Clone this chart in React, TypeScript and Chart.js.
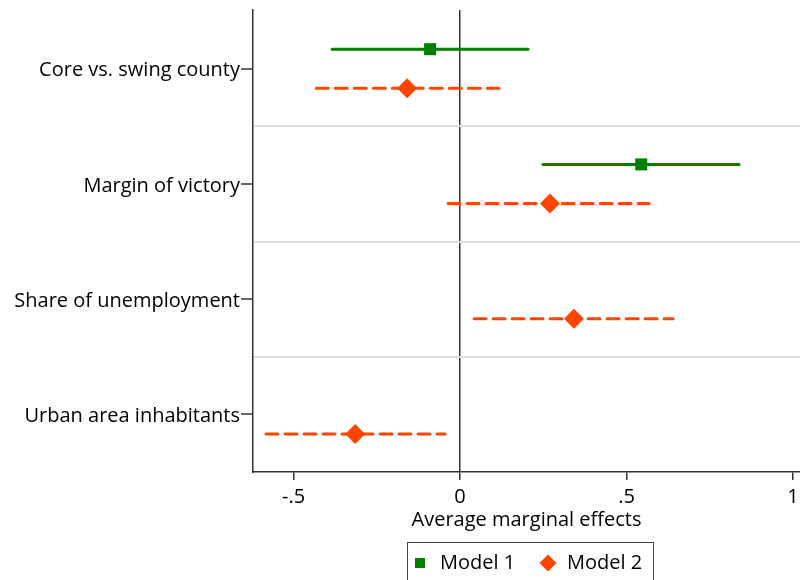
import React, { useEffect, useRef } from 'react';
import { Chart, registerables } from 'chart.js';

Chart.register(...registerables);

const categories = [
  'Core vs. swing county',
  'Margin of victory',
  'Share of unemployment',
  'Urban area inhabitants',
];
const xTicks = [-0.5, 0, 0.5, 1];
const xTickLabels = ['-.5', '0', '.5', '1'];
const xTitle = 'Average marginal effects';

const model1Est = [-0.09, 0.544, null, null];
const model1Lo = [-0.384, 0.249, null, null];
const model1Hi = [0.204, 0.838, null, null];

const model2Est = [-0.159, 0.27, 0.342, -0.315];
const model2Lo = [-0.432, -0.036, 0.042, -0.583];
const model2Hi = [0.117, 0.568, 0.64, -0.045];

const seriesNames = ['Model 1', 'Model 2'];
const seriesColors = ['#008000', '#ff4500'];

const FONT = '"Open Sans"';

export default function App() {
  const ref = useRef<HTMLCanvasElement | null>(null);

  useEffect(() => {
    if (!ref.current) return;
    const series = [
      { est: model1Est, lo: model1Lo, hi: model1Hi, off: -0.17, style: 'rect', radius: 8.5, dash: [] as number[] },
      { est: model2Est, lo: model2Lo, hi: model2Hi, off: 0.17, style: 'rectRot', radius: 10, dash: [12, 7] },
    ];
    const datasets: any[] = [];
    series.forEach((s, si) => {
      datasets.push({
        type: 'scatter',
        label: seriesNames[si],
        data: s.est
          .map((v, i) => (v == null ? null : { x: v, y: i + 1 + s.off }))
          .filter((p) => p != null),
        pointStyle: s.style,
        pointRadius: s.radius,
        pointHoverRadius: s.radius,
        backgroundColor: seriesColors[si],
        borderColor: seriesColors[si],
        borderWidth: 0,
        showLine: false,
        order: 0,
      });
    });
    series.forEach((s, si) => {
      s.lo.forEach((lo, i) => {
        if (lo == null || s.hi[i] == null) return;
        datasets.push({
          type: 'scatter',
          label: seriesNames[si] + ' CI',
          data: [
            { x: lo, y: i + 1 + s.off },
            { x: s.hi[i], y: i + 1 + s.off },
          ],
          showLine: true,
          borderColor: seriesColors[si],
          borderWidth: 3,
          borderDash: s.dash,
          borderCapStyle: 'round',
          pointRadius: 0,
          pointHoverRadius: 0,
          order: 1,
        });
      });
    });

    const legendBox = {
      id: 'legendBox',
      afterDraw(chart: any) {
        const { ctx, chartArea } = chart;
        const cx = (chartArea.left + chartArea.right) / 2 + 3;
        const w = 246;
        const left = Math.round(cx - w / 2);
        const top = Math.round(chartArea.bottom + 70);
        const cy = top + 21;
        ctx.save();
        ctx.strokeStyle = '#444';
        ctx.lineWidth = 1;
        ctx.strokeRect(left + 0.5, top + 0.5, w, 60);
        ctx.font = `20px ${FONT}`;
        ctx.textBaseline = 'middle';
        ctx.textAlign = 'left';
        ctx.fillStyle = seriesColors[0];
        ctx.fillRect(left + 8, cy - 5, 10, 10);
        ctx.fillStyle = '#000';
        ctx.fillText(seriesNames[0], left + 33, cy);
        const dx = left + 141;
        const r = 8.5;
        ctx.fillStyle = seriesColors[1];
        ctx.beginPath();
        ctx.moveTo(dx - r, cy);
        ctx.lineTo(dx, cy - r);
        ctx.lineTo(dx + r, cy);
        ctx.lineTo(dx, cy + r);
        ctx.closePath();
        ctx.fill();
        ctx.fillStyle = '#000';
        ctx.fillText(seriesNames[1], left + 160, cy);
        ctx.restore();
      },
    };

    const chart = new Chart(ref.current, {
      type: 'scatter',
      data: { datasets },
      options: {
        responsive: false,
        animation: false,
        devicePixelRatio: 1,
        layout: { autoPadding: false, padding: { top: 10, right: 0, bottom: 48, left: 0 } },
        plugins: {
          legend: { display: false },
          tooltip: { enabled: false },
        },
        scales: {
          x: {
            type: 'linear',
            min: -0.622,
            max: 1.021,
            afterBuildTicks: (scale: any) => {
              scale.ticks = xTicks.map((v) => ({ value: v }));
            },
            afterFit: (scale: any) => {
              scale.height = 60;
              scale.paddingLeft = 0;
              scale.paddingRight = 0;
            },
            ticks: {
              autoSkip: false,
              maxRotation: 0,
              padding: 5,
              color: '#000',
              font: { family: FONT, size: 20 },
              callback: (v: any) => {
                const i = xTicks.indexOf(Number(v));
                return i >= 0 ? xTickLabels[i] : '';
              },
            },
            grid: {
              color: (c: any) => (c.tick && c.tick.value === 0 ? '#333' : 'rgba(0,0,0,0)'),
              lineWidth: 1.5,
              tickColor: '#333',
              tickLength: 8,
              tickWidth: 1.5,
            },
            border: { color: '#333', width: 1.5 },
            title: {
              display: true,
              text: xTitle,
              color: '#000',
              font: { family: FONT, size: 20 },
              padding: { top: 0, bottom: 0 },
            },
          },
          y: {
            type: 'linear',
            reverse: true,
            min: 0.49,
            max: 4.5,
            afterBuildTicks: (scale: any) => {
              const t: any[] = [];
              for (let i = 0; i < categories.length; i++) {
                t.push({ value: i + 1 });
                if (i < categories.length - 1) t.push({ value: i + 1.5 });
              }
              scale.ticks = t;
            },
            afterFit: (scale: any) => {
              scale.width = 253;
              scale.paddingTop = 0;
              scale.paddingBottom = 0;
            },
            ticks: {
              autoSkip: false,
              padding: 1,
              labelOffset: 2,
              color: '#000',
              font: { family: FONT, size: 20 },
              callback: (v: any) => {
                const n = Number(v);
                return Number.isInteger(n) ? categories[n - 1] : '';
              },
            },
            grid: {
              color: (c: any) =>
                c.tick && !Number.isInteger(c.tick.value) ? '#dcdcdc' : 'rgba(0,0,0,0)',
              lineWidth: 2,
              tickColor: (c: any) =>
                c.tick && Number.isInteger(c.tick.value) ? '#333' : 'rgba(0,0,0,0)',
              tickLength: 12,
              tickWidth: 1.5,
            },
            border: { color: '#333', width: 1.5 },
          },
        },
      },
      plugins: [legendBox],
    } as any);
    return () => chart.destroy();
  }, []);

  return (
    <div style={{ position: 'absolute', left: 0, top: 0, width: 800, height: 580, overflow: 'hidden', background: '#fff' }}>
      <canvas ref={ref} width={800} height={580} style={{ display: 'block', width: 800, height: 580 }} />
    </div>
  );
}
